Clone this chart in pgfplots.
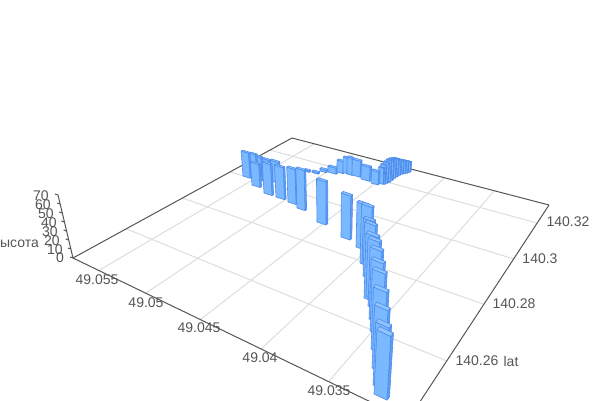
\documentclass[border=0pt]{standalone}
\usepackage{fontspec}
\setmainfont{Liberation Sans}
\usepackage{pgfplots}
\pgfplotsset{compat=1.18}
\definecolor{axc}{HTML}{555555}
\definecolor{grc}{HTML}{DDDDDD}
\definecolor{fr}{HTML}{7AB8FF}
\definecolor{sd}{HTML}{5E9EF2}
\definecolor{tp}{HTML}{8FC4FF}
\definecolor{ed}{HTML}{4D8CEB}
\newcommand{\BAR}[5]{%
 \pgfmathsetmacro\kk{(1343-#3)/(1343-#2)}%
 \pgfmathsetmacro\wy{#4*(#2+121)/(#1+723)}%
 \pgfmathsetmacro\sy{#5*(#2+121.5)/(#1-765.5)}%
 \pgfmathsetmacro\ax{#1}\pgfmathsetmacro\ay{#2}%
 \pgfmathsetmacro\bx{#1+#4}\pgfmathsetmacro\by{#2+\wy}%
 \pgfmathsetmacro\cx{\bx+#5}\pgfmathsetmacro\cy{\by+\sy}%
 \pgfmathsetmacro\dx{#1+#5}\pgfmathsetmacro\dy{#2+\sy}%
 \pgfmathsetmacro\tax{331+\kk*(\ax-331)}\pgfmathsetmacro\tay{1343+\kk*(\ay-1343)}%
 \pgfmathsetmacro\tbx{331+\kk*(\bx-331)}\pgfmathsetmacro\tby{1343+\kk*(\by-1343)}%
 \pgfmathsetmacro\tcx{331+\kk*(\cx-331)}\pgfmathsetmacro\tcy{1343+\kk*(\cy-1343)}%
 \pgfmathsetmacro\tdx{331+\kk*(\dx-331)}\pgfmathsetmacro\tdy{1343+\kk*(\dy-1343)}%
 \addplot[fill=sd,draw=ed,line width=.6pt,line join=round] coordinates {(\bx,\by)(\cx,\cy)(\tcx,\tcy)(\tbx,\tby)(\bx,\by)};%
 \addplot[fill=fr,draw=ed,line width=.6pt,line join=round] coordinates {(\ax,\ay)(\bx,\by)(\tbx,\tby)(\tax,\tay)(\ax,\ay)};%
 \addplot[fill=tp,draw=ed,line width=.6pt,line join=round] coordinates {(\tax,\tay)(\tbx,\tby)(\tcx,\tcy)(\tdx,\tdy)(\tax,\tay)};%
}
\newcommand{\LN}[5]{\addplot[#1,line width=1pt] coordinates {(#2,#3)(#4,#5)};}
\newcommand{\TL}[3]{\node[text=axc,inner sep=0pt,font=\fontsize{14}{14}\selectfont] at (axis cs:#1,#2) {#3};}
\begin{document}
\begin{tikzpicture}
\useasboundingbox (0,0) rectangle (600pt,400pt);
\clip (0,0) rectangle (600pt,400pt);
\begin{axis}[at={(0,0)},anchor=south west,width=600pt,height=400pt,scale only axis,
  xmin=0,xmax=600,ymin=0,ymax=400,y dir=reverse,hide axis,clip=true]
% grid: lon
\LN{grc}{98}{271}{314.2}{143.8}
\LN{grc}{146}{293}{353.6}{154.1}
\LN{grc}{200}{320}{397.6}{165.7}
\LN{grc}{261}{349}{444.4}{177.9}
\LN{grc}{329}{381}{494.2}{190.9}
% grid: lat
\LN{grc}{447}{361}{126.3}{228.8}
\LN{grc}{483}{304}{182.4}{198}
\LN{grc}{514}{259}{230.2}{171.8}
\LN{grc}{537}{223}{269.9}{150.1}
% axes
\LN{axc}{73}{258}{292}{138}
\LN{axc}{292}{138}{549}{205}
\LN{axc}{73}{258}{408}{420}
\LN{axc}{549}{205}{408}{420}
\LN{axc}{73}{258}{58}{195}
\LN{axc}{73}{258}{70}{257}
\LN{axc}{70.9}{249}{67.9}{248}
\LN{axc}{68.7}{240}{65.7}{239}
\LN{axc}{66.6}{231}{63.6}{230}
\LN{axc}{64.4}{222}{61.4}{221}
\LN{axc}{62.3}{213}{59.3}{212}
\LN{axc}{60.1}{204}{57.1}{203}
\LN{axc}{58}{195}{55}{194}
% back row
\BAR{271}{181}{160}{8}{1.6}
\BAR{262}{180}{158}{8}{1.6}
\BAR{257}{179}{156}{5}{1.6}
\BAR{251}{178}{153}{6}{1.6}
\BAR{243}{176}{151}{7}{1.6}
% cluster
\BAR{405}{171}{161}{5}{1}
\BAR{402.5}{172}{160.5}{5}{1}
\BAR{400}{172.5}{160}{5}{1}
\BAR{397.5}{173}{159.5}{5}{1}
\BAR{395}{174}{159}{5}{1}
\BAR{392.5}{175.5}{158}{5}{1}
\BAR{390}{177}{158}{5}{1}
\BAR{387.5}{179}{158.5}{5}{1}
\BAR{385}{181}{159.5}{5}{1}
\BAR{382.5}{182}{161.5}{5}{1}
\BAR{380}{183}{164}{5}{1}
\BAR{378}{183}{167}{5}{1}
% low bars and middle
\BAR{304}{171}{169.5}{5}{1.6}
\BAR{312}{172.5}{171}{6}{1.6}
\BAR{320}{171}{168.5}{6}{1.6}
\BAR{328}{172}{166}{8}{1.6}
\BAR{337}{172}{160}{6}{1.6}
\BAR{343}{172.5}{157}{4}{1.6}
\BAR{347}{174}{157}{5}{1.6}
\BAR{352}{175}{159}{8}{1.6}
\BAR{361}{179}{165}{8.5}{1.6}
\BAR{371}{183}{170}{7}{1.6}
% second row
\BAR{252}{185}{162}{8}{1.6}
\BAR{264}{193}{162}{8}{1.6}
\BAR{276}{197}{165}{8.5}{1.6}
\BAR{288}{202}{167}{8}{1.6}
\BAR{297}{208}{168}{8}{1.6}
\BAR{317}{222}{179}{9}{1.8}
\BAR{341}{237}{193}{9}{1.8}
% front line
\BAR{356}{247}{202}{9.5}{1.8}
\BAR{360}{263}{204}{10}{1.8}
\BAR{362}{264}{218}{10}{1.8}
\BAR{363}{276}{222}{10.5}{1.8}
\BAR{364}{298}{233}{11}{2}
\BAR{366}{296}{238}{11}{2}
\BAR{368}{306}{247}{11}{2}
\BAR{369}{319}{259}{11.5}{2}
\BAR{370}{331}{269}{12}{2}
\BAR{371}{349}{287}{12.5}{2.2}
\BAR{372}{368}{305}{12.5}{2.2}
\BAR{373}{385}{322}{12.5}{2.4}
\BAR{374}{394}{330}{13}{2.5}
% labels
\TL{97}{280}{49.055}
\TL{146}{303}{49.05}
\TL{199}{328}{49.045}
\TL{260}{358}{49.04}
\TL{329}{391}{49.035}
\TL{568}{222}{140.32}
\TL{540}{259}{140.3}
\TL{514}{304}{140.28}
\TL{477}{361}{140.26}
\TL{511}{361}{lat}
\TL{60}{258}{0}
\TL{55}{250}{10}
\TL{52}{241}{20}
\TL{50}{232}{30}
\TL{49}{223}{40}
\TL{46}{214}{50}
\TL{43}{205}{60}
\TL{41}{196}{70}
\node[text=axc,inner sep=0pt,anchor=east,font=\fontsize{14}{14}\selectfont] at (axis cs:39,244) {высота};
\end{axis}
\end{tikzpicture}
\end{document}
